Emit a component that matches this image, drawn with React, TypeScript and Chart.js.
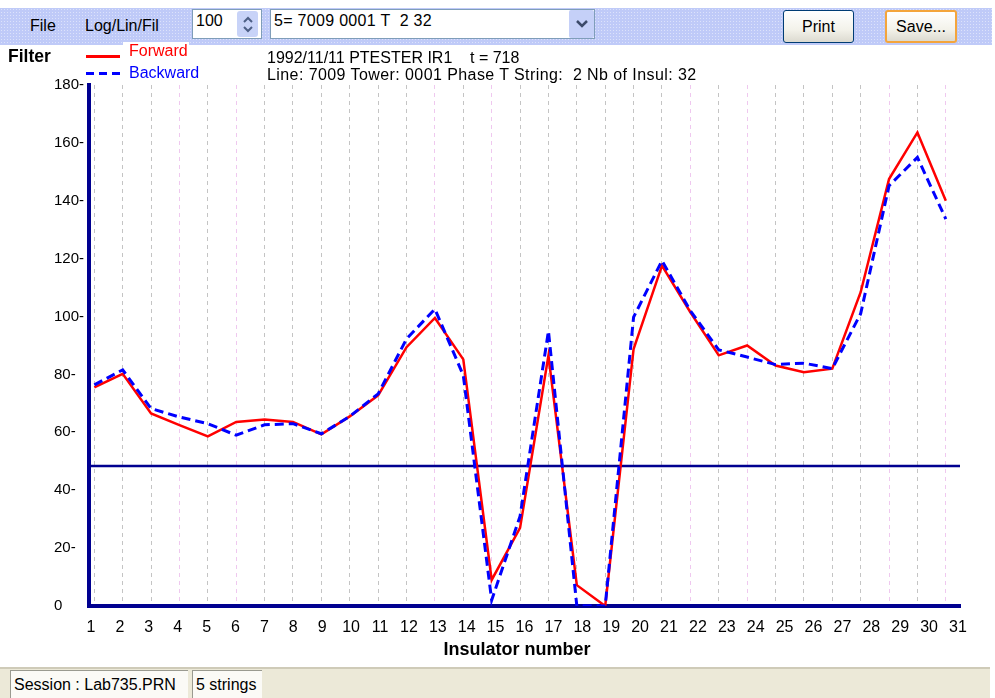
import React, { useEffect, useRef } from "react";
import { Chart, registerables } from "chart.js";

Chart.register(...registerables);

// ---- data ----
const insulators = [1, 2, 3, 4, 5, 6, 7, 8, 9, 10, 11, 12, 13, 14, 15, 16, 17, 18, 19, 20, 21, 22, 23, 24, 25, 26, 27, 28, 29, 30, 31];
const forward = [75.5, 80.2, 66.5, 62.5, 58.6, 63.6, 64.4, 63.6, 59.3, 65.5, 72.8, 89.4, 99.5, 85.2, 9, 27, 86.5, 7.2, 0, 88.8, 117.6, 101.5, 86.6, 90, 83.1, 80.8, 82, 108.4, 147.5, 163.6, 140];
const backward = [76.4, 81.6, 68.2, 65.3, 63, 59, 62.6, 63, 59.5, 65.5, 73.3, 92.3, 102.6, 79.7, 2, 31, 95, 0, 0, 99.8, 119.3, 102, 88.5, 86, 83.4, 83.9, 82, 101, 145.2, 155, 133.7];
const thresholdLevel = 48.4;
const yTickValues = [0, 20, 40, 60, 80, 100, 120, 140, 160, 180];
const pinkGridAt = [4, 6, 13, 15, 22, 24, 29, 31];

const X_MIN = 0.813;
const X_MAX = 31.5;
const LABEL_MIN = 0.931;
const LABEL_MAX = 31.07;

const NAVY = "#000090";
const FONT = "'Liberation Sans', Arial, sans-serif";

function ChartCanvas() {
  const ref = useRef<HTMLCanvasElement | null>(null);
  useEffect(() => {
    if (!ref.current) return;
    const chart = new Chart(ref.current, {
      type: "line",
      data: {
        datasets: [
          {
            label: "Backward",
            data: insulators.map((n, i) => ({ x: n, y: backward[i] })),
            borderColor: "#0000ff",
            borderWidth: 3,
            borderDash: [9, 5],
            pointRadius: 0,
            fill: false,
            tension: 0,
            order: 0,
          },
          {
            label: "Forward",
            data: insulators.map((n, i) => ({ x: n, y: forward[i] })),
            borderColor: "#ff0000",
            borderWidth: 2.5,
            pointRadius: 0,
            fill: false,
            tension: 0,
            order: 1,
          },
          {
            label: "Threshold",
            data: [
              { x: X_MIN, y: thresholdLevel },
              { x: X_MAX, y: thresholdLevel },
            ],
            borderColor: NAVY,
            borderWidth: 2.5,
            pointRadius: 0,
            fill: false,
            order: 2,
          },
        ],
      },
      options: {
        animation: false,
        responsive: false,
        maintainAspectRatio: false,
        layout: { padding: { top: 85, left: 54, right: 35, bottom: 35 } },
        plugins: { legend: { display: false }, tooltip: { enabled: false } },
        scales: {
          x: {
            type: "linear",
            position: "bottom",
            min: X_MIN,
            max: X_MAX,
            afterBuildTicks: (s: any) => {
              s.ticks = insulators.map((v) => ({ value: v }));
            },
            afterFit: (s: any) => {
              s.height = 0;
            },
            ticks: { display: false },
            grid: {
              display: true,
              drawTicks: false,
              lineWidth: 1,
              color: (ctx: any) =>
                ctx.tick && pinkGridAt.includes(ctx.tick.value) ? "#efc8ef" : "#c4c4c4",
            },
            border: { display: true, color: NAVY, width: 4, dash: [4, 4] },
          },
          x2: {
            type: "linear",
            position: "bottom",
            min: LABEL_MIN,
            max: LABEL_MAX,
            afterBuildTicks: (s: any) => {
              s.ticks = insulators.map((v) => ({ value: v }));
            },
            afterFit: (s: any) => {
              s.height = 57;
            },
            ticks: {
              padding: 12,
              color: "#000",
              font: { family: FONT, size: 16 },
              maxRotation: 0,
              autoSkip: false,
            },
            grid: { display: false, drawTicks: false },
            border: { display: false },
            title: {
              display: true,
              text: "Insulator number   ",
              color: "#000",
              font: { family: FONT, size: 18, weight: "bold" },
              padding: { top: 0, bottom: 2 },
            },
          },
          y: {
            type: "linear",
            min: 0,
            max: 180,
            afterBuildTicks: (s: any) => {
              s.ticks = yTickValues.map((v) => ({ value: v }));
            },
            afterFit: (s: any) => {
              s.width = 35;
            },
            ticks: {
              padding: 4,
              crossAlign: "far",
              color: "#000",
              font: { family: FONT, size: 15 },
              callback: (v: any) => (v === 0 ? "0" : `${v}-`),
            },
            grid: { display: false, drawTicks: false },
            border: { display: true, color: NAVY, width: 4 },
          },
        },
      },
    } as any);
    return () => chart.destroy();
  }, []);
  return (
    <canvas
      ref={ref}
      width={995}
      height={698}
      style={{ position: "absolute", left: 0, top: 0, width: 995, height: 698 }}
    />
  );
}

const abs = (l: number, t: number, extra: React.CSSProperties = {}): React.CSSProperties => ({
  position: "absolute",
  left: l,
  top: t,
  ...extra,
});

function Text({ l, cy, children, style }: { l: number; cy: number; children: React.ReactNode; style?: React.CSSProperties }) {
  return (
    <div style={abs(l, cy - 10, { height: 20, lineHeight: "20px", whiteSpace: "pre", fontSize: 16, ...style })}>
      {children}
    </div>
  );
}

const Chevron = ({ up }: { up: boolean }) => (
  <svg width="12" height="8" viewBox="0 0 12 8">
    <polyline
      points={up ? "2,7 6,3 10,7" : "2,2 6,6 10,2"}
      fill="none"
      stroke="#4d5f86"
      strokeWidth="2"
    />
  </svg>
);

const buttonStyle: React.CSSProperties = {
  background: "linear-gradient(#ffffff, #f3f2ea 60%, #dcdad0)",
  borderRadius: 3,
  boxSizing: "border-box",
  display: "flex",
  alignItems: "center",
  justifyContent: "center",
  fontSize: 16,
};

export default function App() {
  return (
    <div
      style={{
        position: "fixed",
        left: 0,
        top: 0,
        width: 995,
        height: 698,
        background: "#fff",
        fontFamily: FONT,
        color: "#000",
        overflow: "hidden",
      }}
    >
      <ChartCanvas />

      {/* toolbar */}
      <div
        style={abs(0, 8, {
          width: 992,
          height: 37,
          background: "#bfcaf8",
          backgroundImage: "radial-gradient(rgba(255,255,255,0.45) 0.6px, transparent 1px)",
          backgroundSize: "3px 3px",
        })}
      />
      <Text l={30} cy={26}>File</Text>
      <Text l={85} cy={26}>Log/Lin/Fil</Text>

      <div style={abs(192, 9, { width: 70, height: 30, background: "#fff", border: "1px solid #7f9db9", boxSizing: "border-box" })} />
      <Text l={196} cy={21}>100</Text>
      <div
        style={abs(237, 11, {
          width: 21,
          height: 26,
          background: "#c8d3f8",
          borderRadius: 3,
          display: "flex",
          flexDirection: "column",
          alignItems: "center",
          justifyContent: "center",
          gap: 2,
        })}
      >
        <Chevron up={true} />
        <Chevron up={false} />
      </div>

      <div style={abs(270, 9, { width: 325, height: 30, background: "#fff", border: "1px solid #7f9db9", boxSizing: "border-box" })} />
      <Text l={274} cy={21} style={{ letterSpacing: 0.3 }}>{"5= 7009 0001 T  2 32"}</Text>
      <div
        style={abs(569, 10, {
          width: 25,
          height: 28,
          background: "#c5d0f8",
          borderRadius: 2,
          display: "flex",
          alignItems: "center",
          justifyContent: "center",
        })}
      >
        <svg width="14" height="10" viewBox="0 0 14 10">
          <polyline points="2,2 7,7 12,2" fill="none" stroke="#3c4a6a" strokeWidth="2.5" />
        </svg>
      </div>

      <div style={abs(783, 10, { width: 71, height: 33, border: "1px solid #003c74", ...buttonStyle })}>Print</div>
      <div style={abs(885, 10, { width: 72, height: 33, border: "2px solid #f4a53c", ...buttonStyle })}>Save...</div>

      {/* header / legend */}
      <Text l={8} cy={56} style={{ fontWeight: "bold", fontSize: 17.5 }}>Filter</Text>
      <div style={abs(123, 42, { width: 66, height: 8, background: "#fff" })} />
      <div style={abs(86, 55, { width: 34, height: 3, background: "#ff0000" })} />
      <Text l={129} cy={51} style={{ color: "#ff0000" }}>Forward</Text>
      <div
        style={abs(86, 72, {
          width: 34,
          height: 3,
          background: "repeating-linear-gradient(90deg, #0000ff 0 8px, transparent 8px 13px)",
        })}
      />
      <Text l={129} cy={73} style={{ color: "#0000ff" }}>Backward</Text>
      <Text l={267} cy={58}>1992/11/11 PTESTER IR1</Text>
      <Text l={470} cy={58}>t = 718</Text>
      <Text l={267} cy={75} style={{ letterSpacing: 0.42 }}>{"Line: 7009 Tower: 0001 Phase T String:  2 Nb of Insul: 32"}</Text>

      {/* status bar */}
      <div
        style={abs(0, 667, {
          width: 990,
          height: 31,
          background: "#ece9d8",
          borderTop: "2px solid #cfcbb8",
          boxSizing: "border-box",
        })}
      />
      <div
        style={abs(10, 670, {
          width: 178,
          height: 28,
          background: "#fbfaf6",
          borderTop: "1px solid #9a9a90",
          borderLeft: "1px solid #9a9a90",
          boxSizing: "border-box",
        })}
      />
      <Text l={14} cy={685}>Session : Lab735.PRN</Text>
      <div
        style={abs(192, 670, {
          width: 70,
          height: 28,
          background: "#fbfaf6",
          borderTop: "1px solid #9a9a90",
          borderLeft: "1px solid #9a9a90",
          boxSizing: "border-box",
        })}
      />
      <Text l={196} cy={685}>5 strings</Text>
    </div>
  );
}
